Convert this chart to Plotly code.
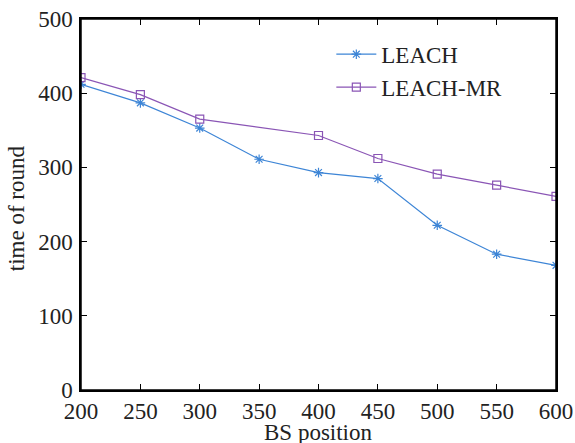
import plotly.graph_objects as go

x_leach = [200, 250, 300, 350, 400, 450, 500, 550, 600]
y_leach = [412, 387, 353, 311, 293, 285, 222, 183, 168]
x_mr = [200, 250, 300, 400, 450, 500, 550, 600]
y_mr = [421, 398, 365, 343, 312, 291, 276, 261]
x_ticks = [200, 250, 300, 350, 400, 450, 500, 550, 600]
y_ticks = [0, 100, 200, 300, 400, 500]

FONT = "Liberation Serif"
TXT = "#222"
fig = go.Figure()
fig.add_trace(go.Scatter(x=x_leach, y=y_leach, name="LEACH", mode="lines+markers",
                         line=dict(color="#3d85d6", width=1.2),
                         marker=dict(symbol="asterisk-open", size=8, color="#3d85d6",
                                     line=dict(width=1.2, color="#3d85d6"))))
fig.add_trace(go.Scatter(x=x_mr, y=y_mr, name="LEACH-MR", mode="lines+markers",
                         line=dict(color="#8a55b5", width=1.2),
                         marker=dict(symbol="square-open", size=8, color="#8a55b5",
                                     line=dict(width=1.2, color="#8a55b5"))))

axis_common = dict(showgrid=False, zeroline=False, showline=True, linecolor="black",
                   linewidth=1.5, mirror="ticks", ticks="inside", ticklen=6,
                   tickcolor="black", tickwidth=1, automargin=False,
                   ticklabeloverflow="allow",
                   tickfont=dict(family=FONT, size=23, color=TXT))
fig.update_xaxes(range=[200, 600], tickvals=x_ticks, **axis_common)
fig.update_yaxes(range=[0, 500], tickvals=y_ticks, ticklabelstandoff=2, **axis_common)

fig.update_layout(
    width=575, height=443, margin=dict(l=81, r=19, t=19, b=53),
    plot_bgcolor="white", paper_bgcolor="white",
    legend=dict(x=0.527, y=0.963, xanchor="left", yanchor="top",
                bgcolor="rgba(0,0,0,0)", tracegroupgap=0,
                font=dict(family=FONT, size=23, color=TXT), itemwidth=40),
    shapes=[dict(type="rect", xref="paper", yref="paper", x0=0, y0=0, x1=1, y1=1,
                 line=dict(color="black", width=1.5), layer="above")],
    annotations=[
        dict(text="BS position", xref="paper", yref="paper", x=0.499, y=0,
             xanchor="center", yanchor="middle", yshift=-42, showarrow=False,
             font=dict(family=FONT, size=23, color=TXT)),
        dict(text="time of round", xref="paper", yref="paper", x=0, y=0.49,
             xanchor="center", yanchor="middle", xshift=-65, textangle=-90,
             showarrow=False, font=dict(family=FONT, size=23, color=TXT)),
    ],
)
fig.write_html("out.html", config={"displayModeBar": False},
               post_script="document.body.style.margin='0';document.body.style.overflow='hidden';")
